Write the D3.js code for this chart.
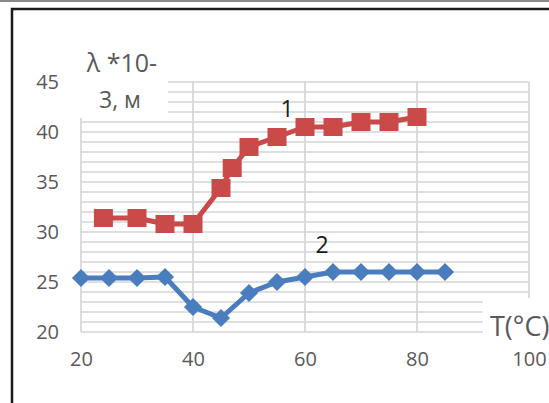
<!DOCTYPE html>
<html><head><meta charset="utf-8">
<script src="https://cdn.jsdelivr.net/npm/d3@7"></script>
<style>html,body{margin:0;padding:0;background:#fff;overflow:hidden}</style>
</head><body>
<script>
const xTicks = [20, 40, 60, 80, 100];
const yTicks = [20, 25, 30, 35, 40, 45];
const series1X = [24, 30, 35, 40, 45, 47, 50, 55, 60, 65, 70, 75, 80];
const series1Y = [31.4, 31.4, 30.8, 30.8, 34.4, 36.4, 38.5, 39.5, 40.5, 40.5, 41, 41, 41.5];
const series2X = [20, 25, 30, 35, 40, 45, 50, 55, 60, 65, 70, 75, 80, 85];
const series2Y = [25.4, 25.4, 25.4, 25.5, 22.5, 21.4, 23.9, 25, 25.5, 26, 26, 26, 26, 26];
const seriesLabels = ["1", "2"];
const yTitle = ["λ *10-", "3, м"];
const xTitle = "T(°C)";

const W = 549, H = 403;
const svg = d3.select("body").append("svg").attr("width", W).attr("height", H);
svg.append("rect").attr("width", W).attr("height", H).attr("fill", "#fff");

// frame
svg.append("line").attr("x1", 0).attr("x2", W).attr("y1", 1).attr("y2", 1).attr("stroke", "#8a8a8a").attr("stroke-width", 2);
svg.append("path").attr("d", `M12,${H}V9H${W}`).attr("fill", "none").attr("stroke", "#1a1a1a").attr("stroke-width", 2.5);

const x = d3.scaleLinear().domain([20, 100]).range([81, 529]);
const y = d3.scaleLinear().domain([20, 45]).range([332, 82]);

const grid = svg.append("g");
grid.selectAll("line.h").data(d3.range(20, 46, 1)).join("line")
  .attr("x1", x(20)).attr("x2", x(100))
  .attr("y1", d => y(d)).attr("y2", d => y(d))
  .attr("stroke", "#d4d4d4").attr("stroke-width", 1.6);
grid.selectAll("line.v").data(xTicks).join("line")
  .attr("x1", d => x(d)).attr("x2", d => x(d))
  .attr("y1", y(20)).attr("y2", y(45))
  .attr("stroke", "#d4d4d4").attr("stroke-width", 1.6);

const tf = "'Open Sans', sans-serif";
const yAxis = svg.append("g").attr("transform", `translate(${x(20) - 22},0)`)
  .call(d3.axisLeft(y).tickValues(yTicks).tickSize(0).tickPadding(0));
const xAxis = svg.append("g").attr("transform", `translate(0,${y(20) + 20})`)
  .call(d3.axisBottom(x).tickValues(xTicks).tickSize(0).tickPadding(0));
[yAxis, xAxis].forEach(a => {
  a.select(".domain").remove();
  a.selectAll("text").attr("fill", "#595959").style("font-family", tf).style("font-size", "20px");
});
xAxis.selectAll("text").attr("dy", "0.68em");

// title boxes (white background covering grid)
svg.append("rect").attr("x", 72).attr("y", 46).attr("width", 96).attr("height", 72).attr("fill", "#fff");
svg.append("rect").attr("x", 483).attr("y", 298).attr("width", 70).attr("height", 50).attr("fill", "#fff");

svg.append("text").attr("x", 122).attr("y", 72).attr("text-anchor", "middle")
  .attr("fill", "#595959").style("font-family", tf).style("font-size", "25px").text(yTitle[0]);
svg.append("text").attr("x", 120).attr("y", 108).attr("text-anchor", "middle")
  .attr("fill", "#595959").style("font-family", tf).style("font-size", "23px").text(yTitle[1]);
svg.append("text").attr("x", 490).attr("y", 336)
  .attr("fill", "#595959").style("font-family", tf).style("font-size", "27px").text(xTitle);

const d1 = series1X.map((v, i) => [v, series1Y[i]]);
const d2 = series2X.map((v, i) => [v, series2Y[i]]);
const line = d3.line().x(d => x(d[0])).y(d => y(d[1]));

const red = "#c94a48", blue = "#4a7dbe";
svg.append("path").datum(d1).attr("d", line).attr("fill", "none").attr("stroke", red).attr("stroke-width", 5).attr("stroke-linejoin", "round");
svg.append("g").selectAll("rect").data(d1).join("rect")
  .attr("x", d => x(d[0]) - 9.5).attr("y", d => y(d[1]) - 9).attr("width", 19).attr("height", 18).attr("fill", red);

svg.append("path").datum(d2).attr("d", line).attr("fill", "none").attr("stroke", blue).attr("stroke-width", 5).attr("stroke-linejoin", "round");
const sym = d3.symbol().type(d3.symbolSquare).size(165);
svg.append("g").selectAll("path").data(d2).join("path")
  .attr("d", sym).attr("transform", d => `translate(${x(d[0])},${y(d[1])}) rotate(45)`).attr("fill", blue);

svg.append("text").attr("x", 287).attr("y", 117).attr("text-anchor", "middle")
  .attr("fill", "#1a1a1a").style("font-family", tf).style("font-size", "23px").text(seriesLabels[0]);
svg.append("text").attr("x", 322).attr("y", 253).attr("text-anchor", "middle")
  .attr("fill", "#1a1a1a").style("font-family", tf).style("font-size", "23px").text(seriesLabels[1]);
</script>
</body></html>
